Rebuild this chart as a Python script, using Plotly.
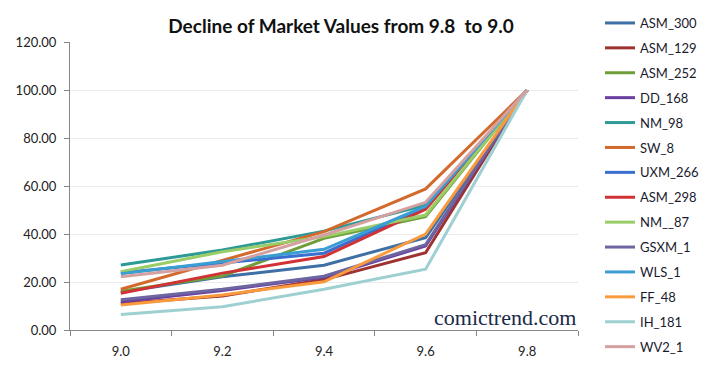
import plotly.graph_objects as go

categories = ["9.0", "9.2", "9.4", "9.6", "9.8"]

series_names = ["ASM_300", "ASM_129", "ASM_252", "DD_168", "NM_98", "SW_8", "UXM_266",
                "ASM_298", "NM__87", "GSXM_1", "WLS_1", "FF_48", "IH_181", "WV2_1"]

ASM_300 = [15.8, 22.2, 27.0, 38.5, 100]
ASM_129 = [11.0, 14.2, 21.0, 32.2, 100]
ASM_252 = [16.2, 22.5, 38.2, 47.2, 100]
DD_168 = [11.8, 16.5, 22.0, 35.0, 100]
NM_98 = [27.1, 33.3, 41.2, 52.0, 100]
SW_8 = [17.0, 29.0, 41.0, 58.8, 100]
UXM_266 = [23.9, 28.0, 32.0, 51.0, 100]
ASM_298 = [15.3, 23.7, 30.6, 50.3, 100]
NM__87 = [24.3, 32.6, 38.9, 47.9, 100]
GSXM_1 = [12.6, 17.0, 22.4, 35.6, 100]
WLS_1 = [23.4, 28.4, 33.6, 51.6, 100]
FF_48 = [10.4, 14.6, 20.1, 40.0, 100]
IH_181 = [6.5, 9.7, 17.0, 25.3, 100]
WV2_1 = [22.2, 27.0, 39.6, 53.2, 100]

values = [ASM_300, ASM_129, ASM_252, DD_168, NM_98, SW_8, UXM_266,
          ASM_298, NM__87, GSXM_1, WLS_1, FF_48, IH_181, WV2_1]

colors = ["#3E6FA5", "#9E3230", "#6E9E38", "#6A3FA0", "#2E9A96", "#D4692E", "#3A6ECF",
          "#D03235", "#9ACC68", "#6C65A0", "#3A9ED2", "#F99A3C", "#9ED0D2", "#D4A0A0"]

fig = go.Figure()
for name, vals, col in zip(series_names, values, colors):
    fig.add_trace(go.Scatter(x=categories, y=vals, name=name, mode="lines",
                             line=dict(color=col, width=3), legendgroup=name))

fig.update_layout(
    width=714, height=374,
    margin=dict(l=70, r=136, t=42, b=44),
    paper_bgcolor="white", plot_bgcolor="white",
    font=dict(family="Lato, sans-serif", size=13, color="#222"),
    title=dict(text="<b>Decline of Market Values from 9.8  to 9.0</b>",
               x=341 / 714, xanchor="center", y=1 - 26 / 374, yanchor="middle",
               font=dict(family="Lato, sans-serif", size=19, color="#111")),
    showlegend=True,
    legend=dict(xref="container", yref="container", x=600 / 714, y=1 - 8 / 374,
                xanchor="left", yanchor="top", font=dict(size=13, color="#1a1a2e"),
                tracegroupgap=5, maxheight=1.0, bgcolor="rgba(0,0,0,0)"),
    xaxis=dict(type="category", range=[-0.5, 4.5], showgrid=False, showline=True,
               linecolor="#868686", linewidth=1, ticks="outside", tickson="boundaries",
               ticklen=5, tickcolor="#868686", tickfont=dict(size=13, color="#222"),
               ticklabelstandoff=9, zeroline=False),
    yaxis=dict(range=[0, 120], dtick=20, tickformat=".2f", showgrid=True,
               gridcolor="#EBEBEB", showline=True, linecolor="#868686", linewidth=1,
               ticks="outside", ticklen=5, tickcolor="#868686",
               tickfont=dict(size=13, color="#222"), ticklabelstandoff=5, zeroline=False),
)

fig.add_annotation(text="comictrend.com", xref="paper", yref="paper", x=1, y=0,
                   xanchor="right", yanchor="bottom", yshift=-2, showarrow=False,
                   font=dict(family="Liberation Serif, serif", size=22, color="#1A2A4A"))

fig.write_html("out.html", config={"displayModeBar": False},
               post_script="document.body.style.margin='0';")
